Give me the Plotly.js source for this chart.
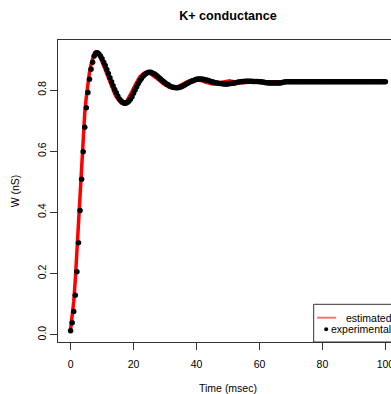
<!DOCTYPE html>
<html>
<head>
<meta charset="utf-8">
<script src="https://cdn.plot.ly/plotly-3.0.1.min.js"></script>
<style>
html,body{margin:0;padding:0;overflow:hidden;background:#fff;}
#chart{width:420px;height:394px;}
</style>
</head>
<body>
<div id="chart"></div>
<script>
// Sampling of both series: start time and step (msec)
var T0 = 0;
var DT = 0.5;

// Experimental K+ conductance (nS), t = 0 .. 100 msec
var experimental = [
  0.013,0.039,0.076,0.129,0.206,0.301,0.406,0.508,0.598,0.678,
  0.742,0.792,0.835,0.868,0.891,0.911,0.920,0.922,0.918,0.911,
  0.902,0.891,0.880,0.867,0.854,0.840,0.827,0.814,0.802,0.791,
  0.780,0.771,0.765,0.760,0.757,0.757,0.759,0.763,0.770,0.778,
  0.789,0.800,0.811,0.821,0.830,0.838,0.845,0.850,0.854,0.857,
  0.858,0.858,0.856,0.853,0.850,0.846,0.841,0.837,0.832,0.828,
  0.824,0.820,0.817,0.813,0.811,0.809,0.808,0.807,0.807,0.808,
  0.810,0.812,0.815,0.818,0.821,0.824,0.827,0.829,0.831,0.833,
  0.835,0.836,0.836,0.836,0.835,0.834,0.833,0.832,0.830,0.828,
  0.827,0.825,0.824,0.823,0.822,0.821,0.821,0.820,0.820,0.820,
  0.820,0.821,0.821,0.822,0.823,0.824,0.825,0.826,0.827,0.828,
  0.828,0.829,0.829,0.829,0.829,0.829,0.828,0.828,0.828,0.828,
  0.827,0.827,0.826,0.825,0.824,0.824,0.823,0.823,0.823,0.823,
  0.823,0.823,0.823,0.823,0.824,0.825,0.826,0.827,0.827,0.827,
  0.827,0.827,0.827,0.827,0.827,0.827,0.827,0.827,0.827,0.827,
  0.827,0.827,0.827,0.827,0.827,0.827,0.827,0.827,0.827,0.827,
  0.827,0.827,0.827,0.827,0.827,0.827,0.827,0.827,0.827,0.827,
  0.827,0.827,0.827,0.827,0.827,0.827,0.827,0.827,0.827,0.827,
  0.827,0.827,0.827,0.827,0.827,0.827,0.827,0.827,0.827,0.827,
  0.827,0.827,0.827,0.827,0.827,0.827,0.827,0.827,0.827,0.827,
  0.827
];

// Estimated K+ conductance (nS), t = 0 .. 100 msec
var estimated = [
  0.018,0.058,0.108,0.180,0.272,0.375,0.478,0.573,0.655,0.725,
  0.778,0.823,0.858,0.884,0.905,0.919,0.925,0.923,0.916,0.907,
  0.893,0.880,0.866,0.852,0.838,0.824,0.811,0.799,0.788,0.778,
  0.770,0.763,0.758,0.756,0.757,0.760,0.766,0.774,0.784,0.795,
  0.806,0.817,0.827,0.835,0.843,0.849,0.853,0.856,0.858,0.858,
  0.856,0.853,0.850,0.846,0.841,0.837,0.832,0.828,0.824,0.820,
  0.817,0.813,0.811,0.809,0.808,0.807,0.807,0.808,0.810,0.812,
  0.815,0.818,0.821,0.824,0.827,0.829,0.831,0.833,0.834,0.835,
  0.835,0.834,0.833,0.831,0.829,0.827,0.825,0.823,0.821,0.820,
  0.820,0.820,0.821,0.822,0.824,0.825,0.827,0.828,0.829,0.830,
  0.830,0.830,0.829,0.828,0.827,0.826,0.825,0.825,0.824,0.824,
  0.824,0.825,0.825,0.826,0.826,0.827,0.827,0.827,0.827,0.827,
  0.827,0.827,0.827,0.827,0.827,0.827,0.827,0.827,0.827,0.827,
  0.827,0.827,0.827,0.827,0.827,0.827,0.827,0.827,0.827,0.827,
  0.827,0.827,0.827,0.827,0.827,0.827,0.827,0.827,0.827,0.827,
  0.827,0.827,0.827,0.827,0.827,0.827,0.827,0.827,0.827,0.827,
  0.827,0.827,0.827,0.827,0.827,0.827,0.827,0.827,0.827,0.827,
  0.827,0.827,0.827,0.827,0.827,0.827,0.827,0.827,0.827,0.827,
  0.827,0.827,0.827,0.827,0.827,0.827,0.827,0.827,0.827,0.827,
  0.827,0.827,0.827,0.827,0.827,0.827,0.827,0.827,0.827,0.827,
  0.827
];

var xTicks = [0, 20, 40, 60, 80, 100];
var yTicks = [0, 0.2, 0.4, 0.6, 0.8];
var yTickText = ["0.0", "0.2", "0.4", "0.6", "0.8"];
var seriesNames = ["estimated", "experimental"];

var FONT = "Liberation Sans, Arial, Helvetica, sans-serif";

var traces = [
  {
    type: "scatter", mode: "lines", name: seriesNames[0],
    x0: T0, dx: DT, y: estimated,
    line: {color: "#ff0000", width: 3.5},
    showlegend: false, hoverinfo: "skip"
  },
  {
    type: "scatter", mode: "markers", name: seriesNames[1],
    x0: T0, dx: DT, y: experimental,
    marker: {color: "#000000", size: 5.5, line: {width: 0}},
    showlegend: false, hoverinfo: "skip"
  }
];

var layout = {
  width: 420, height: 394,
  margin: {l: 58, r: 22, t: 40, b: 52, pad: 0},
  paper_bgcolor: "#ffffff", plot_bgcolor: "#ffffff",
  font: {family: FONT, size: 10.5, color: "#000"},
  title: {
    text: "<b>K+ conductance</b>",
    font: {family: FONT, size: 12.6, color: "#000"},
    xref: "paper", x: 0.5, xanchor: "center",
    yref: "container", y: 1 - 16 / 394, yanchor: "middle"
  },
  xaxis: {
    range: [-4, 104], tickvals: xTicks, ticktext: xTicks.map(String),
    ticks: "outside", ticklen: 7, tickwidth: 1, tickcolor: "#333",
    ticklabelstandoff: 5,
    showline: true, mirror: true, linecolor: "#333", linewidth: 1,
    showgrid: false, zeroline: false,
    tickfont: {family: FONT, size: 10.5, color: "#000"},
    title: {text: "Time (msec)", font: {family: FONT, size: 10.5, color: "#000"}, standoff: 16}
  },
  yaxis: {
    range: [-0.0239, 0.9635], tickvals: yTicks, ticktext: yTickText,
    tickangle: -90,
    ticks: "outside", ticklen: 7, tickwidth: 1, tickcolor: "#333",
    showline: true, mirror: true, linecolor: "#333", linewidth: 1,
    showgrid: false, zeroline: false,
    tickfont: {family: FONT, size: 10.5, color: "#000"},
    title: {text: "W (nS)", font: {family: FONT, size: 10.5, color: "#000"}, standoff: 14}
  },
  shapes: [
    {type: "rect", xref: "paper", yref: "paper", x0: 0.752, x1: 1.0, y0: 0, y1: 0.1248,
     line: {color: "#333", width: 1}, fillcolor: "#ffffff", layer: "above"},
    {type: "line", xref: "paper", yref: "paper", x0: 0.762, x1: 0.818, y0: 0.0805, y1: 0.0805,
     line: {color: "#ff7070", width: 2}, layer: "above"},
    {type: "circle", xref: "paper", yref: "paper", xsizemode: "pixel", ysizemode: "pixel",
     xanchor: 0.7887, yanchor: 0.042, x0: -2, x1: 2, y0: -2, y1: 2,
     fillcolor: "#000", line: {width: 0}, layer: "above"}
  ],
  annotations: [
    {xref: "paper", yref: "paper", x: 0.8405, y: 0.0795, xanchor: "left", yanchor: "middle",
     text: seriesNames[0], showarrow: false, font: {family: FONT, size: 10.5, color: "#000"}},
    {xref: "paper", yref: "paper", x: 0.7964, y: 0.042, xanchor: "left", yanchor: "middle",
     text: seriesNames[1], showarrow: false, font: {family: FONT, size: 10.5, color: "#000"}}
  ]
};

Plotly.newPlot("chart", traces, layout, {staticPlot: true, displayModeBar: false});
</script>
</body>
</html>
